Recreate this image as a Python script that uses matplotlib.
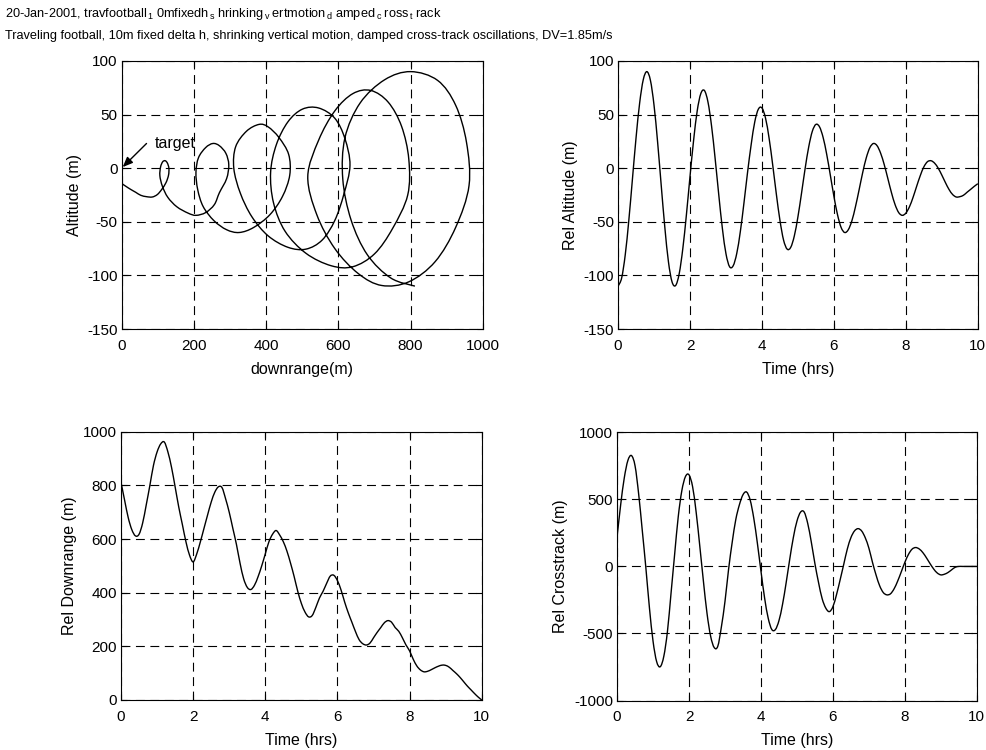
#!/usr/bin/env python3
"""Traveling football relative motion plots (MATLAB-style 2x2 figure)."""

import numpy as np
import matplotlib
matplotlib.use('Agg')
import matplotlib.pyplot as plt
from matplotlib.path import Path
from matplotlib.patches import PathPatch

plt.rcParams['font.family'] = ['Liberation Sans', 'DejaVu Sans']
plt.rcParams['mathtext.fontset'] = 'custom'
plt.rcParams['mathtext.rm'] = 'Liberation Sans'
plt.rcParams['mathtext.it'] = 'Liberation Sans'
plt.rcParams['mathtext.default'] = 'regular'
plt.rcParams['axes.unicode_minus'] = False

# time samples, hours (every 0.1 hr)
time_hrs = np.round(np.arange(0, 101) * 0.1, 1)

rel_altitude = [
    -110, -102.4, -80.7, -48.3, -10, 28.3, 60.7, 82.4, 90, 81.8,
    58.6, 24, -16.2, -55.2, -87.2, -106, -109.4, -98.3, -75, -43.4,
    -7.7, 26, 53.4, 69.5, 72.4, 61.5, 39, 8.4, -25.1, -56.3,
    -79.9, -91.9, -91, -79.4, -58.8, -32.3, -3.8, 22, 43.2, 55,
    56.1, 46.5, 27.5, 2.6, -24.3, -48.7, -67, -75.5, -73.8, -63.1,
    -45.3, -23.3, -0.3, 19.9, 34.4, 40.8, 38.5, 28.6, 12.8, -6.5,
    -26.3, -43.4, -55.3, -60, -57.4, -49, -35.8, -20.2, -4.1, 9.7,
    19.2, 23, 20.9, 13.8, 3.1, -9.8, -22.9, -34, -41.4, -44,
    -41.9, -36, -27.2, -16.9, -7, 1.2, 6, 6.9, 4.6, -0.1,
    -6.5, -13.5, -19.9, -24.6, -26.9, -26.6, -25.3, -22.5, -19.8, -17,
    -14.5,
]

rel_downrange = [
    812, 745, 680, 635, 612, 618, 660, 728, 800, 875,
    925, 955, 962, 925, 868, 795, 720, 655, 590, 540,
    515, 545, 590, 640, 690, 738, 775, 795, 792, 750,
    700, 640, 580, 510, 452, 420, 412, 428, 460, 500,
    545, 590, 618, 632, 615, 590, 555, 510, 460, 405,
    360, 328, 310, 315, 345, 380, 405, 435, 462, 465,
    445, 410, 365, 325, 290, 255, 225, 210, 205, 212,
    232, 252, 270, 288, 296, 290, 270, 256, 232, 205,
    183, 152, 127, 112, 105, 107, 113, 120, 126, 130,
    129, 122, 110, 98, 84, 68, 52, 38, 24, 11,
    0,
]

rel_crosstrack = [
    220, 460, 660, 790, 827, 750, 540, 270, -9, -310,
    -558, -710, -748, -669, -485, -200, 90, 370, 565, 670,
    683, 594, 400, 150, -110, -350, -520, -605, -595, -450,
    -260, -20, 180, 350, 460, 535, 555, 495, 359, 173,
    -36, -234, -385, -470, -471, -404, -282, -121, 55, 216,
    338, 405, 406, 320, 180, 20, -120, -240, -310, -337,
    -300, -210, -100, 15, 130, 215, 265, 282, 264, 213,
    136, 30, -65, -145, -195, -212, -204, -167, -109, -40,
    31, 90, 129, 141, 130, 103, 64, 21, -19, -49,
    -63, -58, -45, -25, -6, 0, 0, 0, 0, 0,
    0,
]

# MATLAB's tex interpreter turned the underscores into subscripts
TITLE1 = (r'20-Jan-2001, travfootball$\,_1\;$0mfixedh$\,_s\;$hrinking'
          r'$\,_v\;$ertmotion$\,_d\;$amped$\,_c\;$ross$\,_t\;$rack')
TITLE2 = ('Traveling football, 10m fixed delta h, shrinking vertical motion, '
          'damped cross-track oscillations, DV=1.85m/s')

GRID_STYLE = dict(color='black', linestyle=(0, (8, 5)), linewidth=0.8)
TICK_FS = 11
LABEL_FS = 11.5


def smooth_line(ax, x, y):
    """Draw the sampled curve as a smooth bezier path through the points."""
    pts = np.column_stack([x, y]).astype(float)
    ext = np.vstack([pts[0], pts, pts[-1]])
    verts = [pts[0]]
    codes = [Path.MOVETO]
    for i in range(len(pts) - 1):
        p0, p1, p2, p3 = ext[i], ext[i + 1], ext[i + 2], ext[i + 3]
        verts += [p1 + (p2 - p0) / 6, p2 - (p3 - p1) / 6, p2]
        codes += [Path.CURVE4] * 3
    ax.add_patch(PathPatch(Path(verts, codes), facecolor='none',
                           edgecolor='black', linewidth=1.0))


def style_axes(ax, xlim, ylim, xticks, yticks, xlabel, ylabel):
    ax.set_xlim(*xlim)
    ax.set_ylim(*ylim)
    ax.set_xticks(xticks)
    ax.set_yticks(yticks)
    ax.tick_params(direction='in', length=4, width=0.8, top=True, right=True,
                   labelsize=TICK_FS)
    ax.tick_params(axis='x', pad=7)
    ax.tick_params(axis='y', pad=3)
    ax.grid(True, **GRID_STYLE)
    ax.set_axisbelow(True)
    for sp in ax.spines.values():
        sp.set_linewidth(0.8)
    ax.set_xlabel(xlabel, fontsize=LABEL_FS, labelpad=6.5)
    ax.set_ylabel(ylabel, fontsize=LABEL_FS, labelpad=4)


def generate():
    fig = plt.figure(figsize=(9.87, 7.5), dpi=100)
    fig.patch.set_facecolor('white')

    w, h = 0.3655, 0.3575
    ax1 = fig.add_axes([0.1236, 0.5613, w, h])
    ax2 = fig.add_axes([0.6262, 0.5613, w - 0.001, h])
    ax3 = fig.add_axes([0.1226, 0.0667, w, h])
    ax4 = fig.add_axes([0.6252, 0.0660, w - 0.001, h])

    # downrange vs altitude
    smooth_line(ax1, rel_downrange, rel_altitude)
    style_axes(ax1, (0, 1000), (-150, 100), np.arange(0, 1001, 200),
               np.arange(-150, 101, 50), 'downrange(m)', 'Altitude (m)')
    ax1.text(92, 23, 'target', fontsize=11.5, ha='left', va='center')
    ax1.annotate('', xy=(2, 1), xytext=(68, 23),
                 arrowprops=dict(arrowstyle='-|>,head_length=0.6,head_width=0.25',
                                 color='black', lw=1.0, shrinkA=0, shrinkB=0))

    smooth_line(ax2, time_hrs, rel_altitude)
    style_axes(ax2, (0, 10), (-150, 100), np.arange(0, 11, 2),
               np.arange(-150, 101, 50), 'Time (hrs)', 'Rel Altitude (m)')

    smooth_line(ax3, time_hrs, rel_downrange)
    style_axes(ax3, (0, 10), (0, 1000), np.arange(0, 11, 2),
               np.arange(0, 1001, 200), 'Time (hrs)', 'Rel Downrange (m)')

    smooth_line(ax4, time_hrs, rel_crosstrack)
    style_axes(ax4, (0, 10), (-1000, 1000), np.arange(0, 11, 2),
               np.arange(-1000, 1001, 500), 'Time (hrs)', 'Rel Crosstrack (m)')

    fig.text(0.005, 0.981, TITLE1, fontsize=9.2, ha='left', va='center')
    fig.text(0.005, 0.952, TITLE2, fontsize=9.2, ha='left', va='center')

    fig.savefig('out.png', dpi=100, facecolor='white')
    plt.close(fig)


if __name__ == '__main__':
    generate()
